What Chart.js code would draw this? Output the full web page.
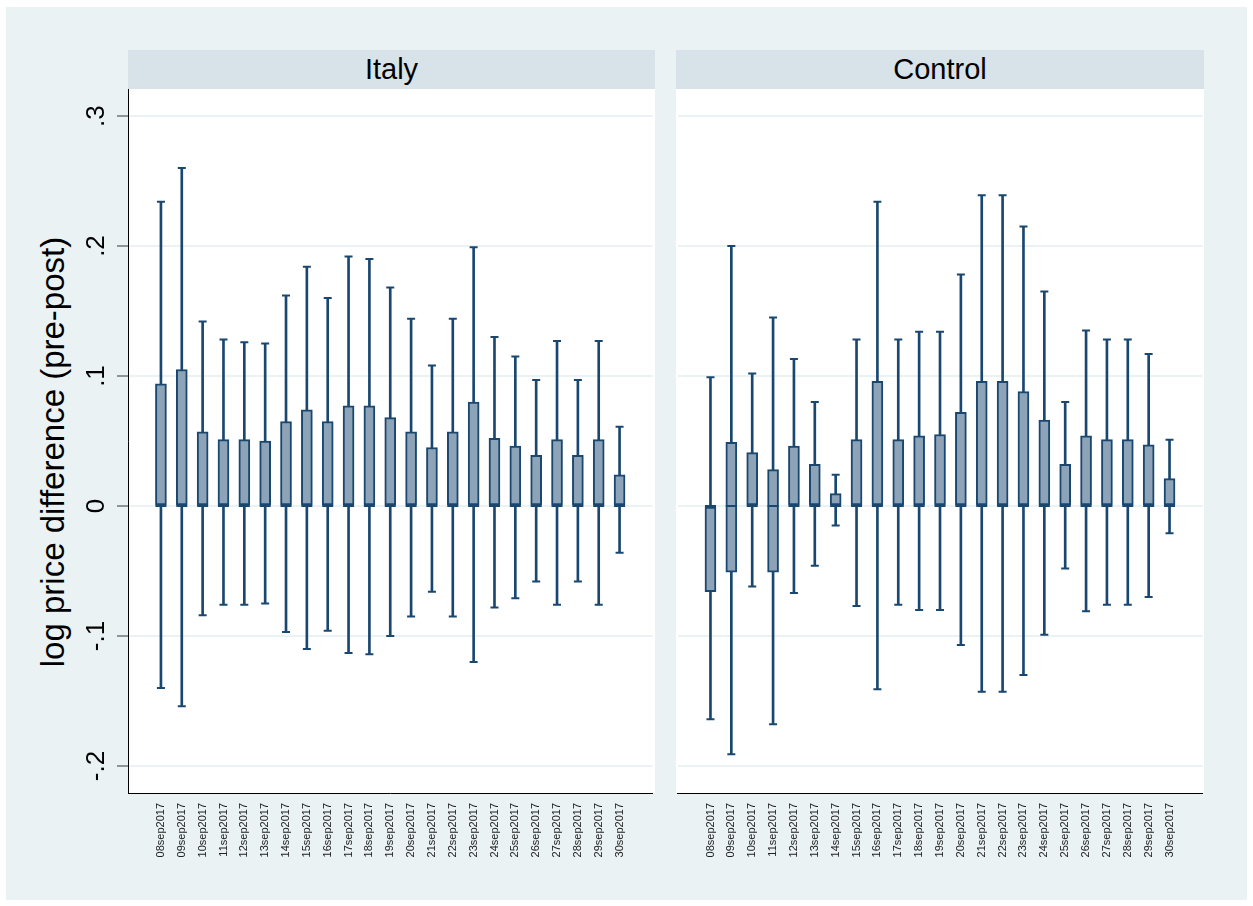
<!DOCTYPE html>
<html>
<head>
<meta charset="utf-8">
<title>log price difference (pre-post)</title>
<script src="https://cdn.jsdelivr.net/npm/chart.js@4.4.1/dist/chart.umd.min.js"></script>
<style>
  html, body { margin: 0; padding: 0; background: #ffffff; }
  body { width: 1253px; height: 906px; position: relative; overflow: hidden;
         font-family: "Liberation Sans", Arial, sans-serif; }
  #region { position: absolute; left: 6px; top: 7px; width: 1241px; height: 893px; background: #eaf2f3; }
  .strip { position: absolute; top: 50px; height: 39px; background: #d7e3e9; color: #000;
           font-size: 29px; line-height: 39px; text-align: center; white-space: nowrap; }
  .plotbg { position: absolute; top: 89px; height: 704px; background: #ffffff; }
  #ytitle { position: absolute; left: 51.9px; top: 451.5px; font-size: 33px; line-height: 33px;
            white-space: nowrap; color: #000; transform: translate(-50%, -50%) rotate(-90deg); }
  canvas { position: absolute; }
</style>
</head>
<body>
<div id="region"></div>
<div class="strip" id="stripItaly" style="left:128px;width:527px;"></div>
<div class="strip" id="stripControl" style="left:676px;width:528px;"></div>
<div class="plotbg" style="left:128px;width:527px;"></div>
<div class="plotbg" style="left:676px;width:528px;"></div>
<div id="ytitle"></div>
<canvas id="italyChart" width="660" height="800" style="left:0px;top:80px;"></canvas>
<canvas id="controlChart" width="540" height="800" style="left:670px;top:80px;"></canvas>

<script>
// Days on the horizontal axis
const dates = ['08sep2017','09sep2017','10sep2017','11sep2017','12sep2017','13sep2017','14sep2017',
  '15sep2017','16sep2017','17sep2017','18sep2017','19sep2017','20sep2017','21sep2017','22sep2017',
  '23sep2017','24sep2017','25sep2017','26sep2017','27sep2017','28sep2017','29sep2017','30sep2017'];

const panelTitles = ['Italy', 'Control'];
const yAxisTitle = 'log price difference (pre-post)';
const yTickValues = [-0.2, -0.1, 0, 0.1, 0.2, 0.3];
const yTickLabels = ['-.2', '-.1', '0', '.1', '.2', '.3'];

// Italy: whisker ends, quartiles and median per day
const italyUpper  = [0.234, 0.260, 0.142, 0.128, 0.126, 0.125, 0.162, 0.184, 0.160, 0.192, 0.190, 0.168,
                     0.144, 0.108, 0.144, 0.199, 0.130, 0.115, 0.097, 0.127, 0.097, 0.127, 0.061];
const italyQ3     = [0.094, 0.105, 0.057, 0.051, 0.051, 0.050, 0.065, 0.074, 0.065, 0.077, 0.077, 0.068,
                     0.057, 0.045, 0.057, 0.080, 0.052, 0.046, 0.039, 0.051, 0.039, 0.051, 0.024];
const italyMedian = [0, 0, 0, 0, 0, 0, 0, 0, 0, 0, 0, 0, 0, 0, 0, 0, 0, 0, 0, 0, 0, 0, 0];
const italyQ1     = [0, 0, 0, 0, 0, 0, 0, 0, 0, 0, 0, 0, 0, 0, 0, 0, 0, 0, 0, 0, 0, 0, 0];
const italyLower  = [-0.140, -0.154, -0.084, -0.076, -0.076, -0.075, -0.097, -0.110, -0.096, -0.113, -0.114, -0.100,
                     -0.085, -0.066, -0.085, -0.120, -0.078, -0.071, -0.058, -0.076, -0.058, -0.076, -0.036];

// Control: whisker ends, quartiles and median per day
const controlUpper  = [0.099, 0.200, 0.102, 0.145, 0.113, 0.080, 0.024, 0.128, 0.234, 0.128, 0.134, 0.134,
                       0.178, 0.239, 0.239, 0.215, 0.165, 0.080, 0.135, 0.128, 0.128, 0.117, 0.051];
const controlQ3     = [0.000, 0.049, 0.041, 0.028, 0.046, 0.032, 0.0095, 0.051, 0.096, 0.051, 0.054, 0.055,
                       0.072, 0.096, 0.096, 0.088, 0.066, 0.032, 0.054, 0.051, 0.051, 0.047, 0.021];
const controlMedian = [0, 0, 0, 0, 0, 0, 0, 0, 0, 0, 0, 0, 0, 0, 0, 0, 0, 0, 0, 0, 0, 0, 0];
const controlQ1     = [-0.066, -0.051, 0, -0.051, 0, 0, 0, 0, 0, 0, 0, 0, 0, 0, 0, 0, 0, 0, 0, 0, 0, 0, 0];
const controlLower  = [-0.164, -0.191, -0.062, -0.168, -0.067, -0.046, -0.015, -0.077, -0.141, -0.076, -0.080, -0.080,
                       -0.107, -0.143, -0.143, -0.130, -0.099, -0.048, -0.081, -0.076, -0.076, -0.070, -0.021];

const NAVY = '#1a476f';
const BOX_FILL = '#8da3b7';
const GRID = '#eaf2f3';
const FONT = '"Liberation Sans", Arial, sans-serif';
const Y_MIN = -0.2208, Y_MAX = 0.3208;
const X_MIN = -0.58, X_MAX = 24.58;

document.getElementById('stripItaly').textContent = panelTitles[0];
document.getElementById('stripControl').textContent = panelTitles[1];
document.getElementById('ytitle').textContent = yAxisTitle;

Chart.defaults.font.family = FONT;

function boxDatasets(s) {
  const pos = dates.map((d, i) => i + 1);
  return [
    { // whisker stems, drawn behind the boxes
      type: 'bar', label: 'whiskers',
      data: pos.map((x, i) => ({ x: x, y: [s.lower[i], s.upper[i]] })),
      backgroundColor: NAVY, borderWidth: 0, barThickness: 2, grouped: false, order: 3
    },
    { // interquartile boxes
      type: 'bar', label: 'boxes',
      data: pos.map((x, i) => ({ x: x, y: [s.q1[i], s.q3[i]] })),
      backgroundColor: BOX_FILL, borderColor: NAVY, borderWidth: 2, borderSkipped: false,
      barThickness: 11, grouped: false, order: 2
    },
    { // median bars
      type: 'scatter', label: 'median',
      data: pos.map((x, i) => ({ x: x, y: s.median[i] })),
      pointStyle: 'line', pointRadius: 5.5, pointBorderWidth: 2, pointBorderColor: NAVY, order: 1
    },
    { // whisker caps
      type: 'scatter', label: 'caps',
      data: pos.map((x, i) => ({ x: x, y: s.upper[i] })).concat(pos.map((x, i) => ({ x: x, y: s.lower[i] }))),
      pointStyle: 'line', pointRadius: 4, pointBorderWidth: 2, pointBorderColor: NAVY, order: 0
    }
  ];
}

function makePanel(id, series, withAxis, padLeft, padRight) {
  return new Chart(document.getElementById(id), {
    type: 'bar',
    data: { datasets: boxDatasets(series) },
    options: {
      responsive: false, animation: false, devicePixelRatio: 1, events: [],
      layout: { padding: { left: padLeft, right: padRight, top: 9, bottom: 0 } },
      plugins: { legend: { display: false }, tooltip: { enabled: false } },
      scales: {
        x: {
          type: 'linear', min: X_MIN, max: X_MAX, offset: false,
          afterBuildTicks: ax => { ax.ticks = dates.map((d, i) => ({ value: i + 1 })); },
          afterFit: ax => { ax.height = 87; ax.paddingLeft = 0; ax.paddingRight = 0; },
          ticks: { autoSkip: false, minRotation: 90, maxRotation: 90, padding: 10, color: '#222',
                   font: { size: 11 }, callback: (v, i) => dates[i] },
          grid: { display: false, drawTicks: false },
          border: { display: true, color: '#000', width: 1 }
        },
        y: {
          type: 'linear', min: Y_MIN, max: Y_MAX,
          afterBuildTicks: ax => { ax.ticks = yTickValues.map(v => ({ value: v })); },
          afterFit: ax => { ax.width = withAxis ? 100 : 0; ax.paddingTop = 0; ax.paddingBottom = 0; },
          ticks: { display: withAxis, minRotation: 90, maxRotation: 90, crossAlign: 'center', padding: 5,
                   color: '#000', font: { size: 26 }, callback: (v, i) => yTickLabels[i] },
          grid: { color: GRID, lineWidth: 2, drawTicks: withAxis, tickLength: 11,
                  tickColor: '#555', tickWidth: 1.2 },
          border: { display: withAxis, color: '#000', width: 1 }
        }
      }
    }
  });
}

makePanel('italyChart',
  { upper: italyUpper, q3: italyQ3, median: italyMedian, q1: italyQ1, lower: italyLower },
  true, 28, 5);
makePanel('controlChart',
  { upper: controlUpper, q3: controlQ3, median: controlMedian, q1: controlQ1, lower: controlLower },
  false, 6, 6);
</script>
</body>
</html>
